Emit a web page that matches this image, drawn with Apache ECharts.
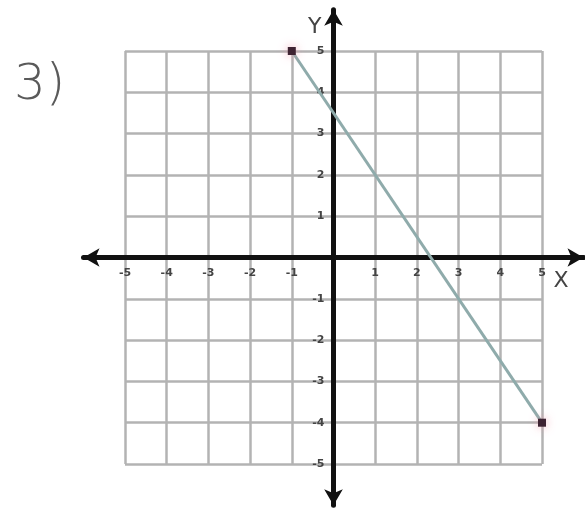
<!DOCTYPE html>
<html lang="en">
<head>
    <meta charset="UTF-8">
    <title>3)</title>
    <style>
        html, body { margin: 0; padding: 0; background: #fff; }
        #main { width: 585px; height: 515px; }
    </style>
    <script src="https://cdn.jsdelivr.net/npm/echarts@6/dist/echarts.min.js"></script>
</head>
<body>
<div id="main"></div>
<script>
    // the two plotted points and the segment between them
    var lineX = [-1, 5];
    var lineY = [5, -4];
    // tick labels shown along the axes (0 is left blank)
    var tickValues = [-5, -4, -3, -2, -1, 1, 2, 3, 4, 5];

    var chart = echarts.init(document.getElementById('main'));

    var segment = lineX.map(function (x, i) { return [x, lineY[i]]; });

    function tickLabel(v) {
        return tickValues.indexOf(v) >= 0 ? String(v) : '';
    }

    var labelStyle = {
        formatter: tickLabel,
        color: '#444', fontSize: 11, fontWeight: 'bold', fontFamily: 'DejaVu Sans'
    };

    var option = {
        backgroundColor: '#fff',
        animation: false,
        graphic: [{
            type: 'text',
            left: 14,
            top: 61,
            style: {
                text: '3)',
                font: '300 50px "DejaVu Sans"',
                fill: '#5a5a5a'
            }
        }],
        grid: [
            // square grid paper, -5..5
            { left: 125, right: 43, top: 51, bottom: 51, outerBoundsMode: 'none' },
            // long axes with arrows, -6..6
            { left: 83.5, right: 1.5, top: 9.7, bottom: 9.7, outerBoundsMode: 'none' }
        ],
        xAxis: [{
            // labels are moved up from the bottom edge onto the zero line
            gridIndex: 0, type: 'value', min: -5, max: 5, interval: 1,
            position: 'bottom', offset: -206.5,
            axisLine: { show: false, onZero: false }, axisTick: { show: false },
            axisLabel: Object.assign({ margin: 10 }, labelStyle),
            splitLine: { lineStyle: { color: '#b3b3b3', width: 2.5 } }
        }, {
            gridIndex: 1, type: 'value', min: -6, max: 6, interval: 1,
            splitLine: { show: false }, axisTick: { show: false }, axisLabel: { show: false },
            axisLine: {
                onZero: true,
                symbol: ['arrow', 'arrow'],
                symbolSize: [14, 16],
                lineStyle: { color: '#111', width: 5 }
            },
            name: 'X', nameLocation: 'end', nameGap: -30,
            nameTextStyle: {
                color: '#444', fontSize: 22, fontFamily: 'DejaVu Sans',
                align: 'left', verticalAlign: 'top', padding: [13, 0, 0, 0]
            }
        }],
        yAxis: [{
            gridIndex: 0, type: 'value', min: -5, max: 5, interval: 1,
            position: 'left', offset: -208.5,
            axisLine: { show: false, onZero: false }, axisTick: { show: false },
            axisLabel: Object.assign({ margin: 9 }, labelStyle),
            splitLine: { lineStyle: { color: '#b3b3b3', width: 2.5 } }
        }, {
            gridIndex: 1, type: 'value', min: -6, max: 6, interval: 1,
            splitLine: { show: false }, axisTick: { show: false }, axisLabel: { show: false },
            axisLine: {
                onZero: true,
                symbol: ['arrow', 'arrow'],
                symbolSize: [14, 16],
                lineStyle: { color: '#111', width: 5 }
            },
            name: 'Y', nameLocation: 'end', nameGap: -18,
            nameTextStyle: {
                color: '#444', fontSize: 22, fontFamily: 'DejaVu Sans',
                align: 'right', verticalAlign: 'middle', padding: [0, 12, 0, 0]
            }
        }],
        series: [{
            type: 'line',
            xAxisIndex: 0,
            yAxisIndex: 0,
            data: segment,
            clip: false,
            symbol: 'rect',
            symbolSize: 8,
            lineStyle: { color: '#8fabab', width: 3 },
            itemStyle: {
                color: '#3e2332',
                shadowColor: 'rgba(240,150,170,0.8)',
                shadowBlur: 10
            },
            z: 3
        }]
    };
    chart.setOption(option);
</script>
</body>
</html>
